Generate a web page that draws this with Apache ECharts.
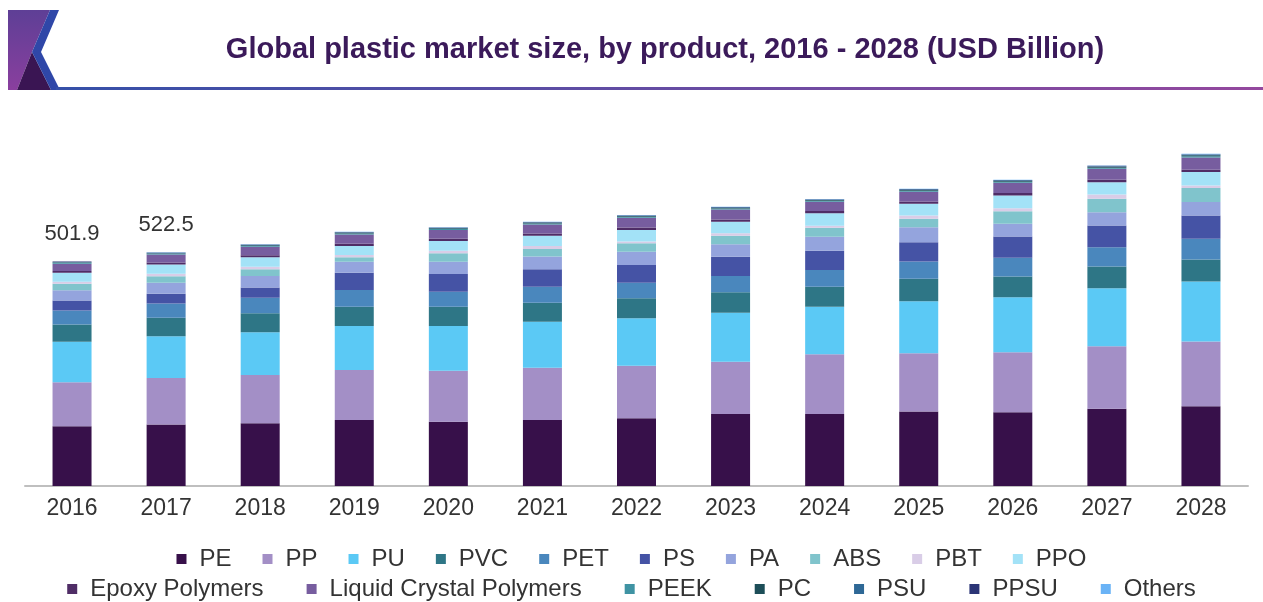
<!DOCTYPE html>
<html>
<head>
<meta charset="utf-8">
<script src="https://cdn.jsdelivr.net/npm/echarts@6/dist/echarts.min.js"></script>
<style>
html,body{margin:0;padding:0;background:#fff;}
#chart{width:1263px;height:602px;}
</style>
</head>
<body>
<div id="chart"></div>
<script>
const years = ['2016','2017','2018','2019','2020','2021','2022','2023','2024','2025','2026','2027','2028'];
const totalLabels = ['501.9','522.5','','','','','','','','','','',''];

const PE    = [133.5,137.2,140.1,147.5,143.7,147.5,151.3,160.9,160.9,166.5,164.9,172.5,178.4];
const PP    = [98.3,104.4,108.0,111.8,114.0,116.9,117.6,116.9,133.4,130.3,134.1,139.9,144.6];
const PU    = [90.3,93.0,95.4,98.3,99.9,102.8,105.9,109.5,106.4,116.2,122.9,129.6,134.1];
const PVC   = [38.7,41.1,42.5,43.1,43.1,42.5,44.7,45.6,44.7,50.1,46.3,48.5,49.2];
const PET   = [31.3,32.0,34.9,37.3,33.5,35.8,34.9,36.4,37.3,38.7,41.8,43.1,46.3];
const PS    = [22.4,21.7,22.4,38.7,39.6,38.9,39.6,43.1,43.1,43.1,47.6,48.5,52.1];
const PA    = [23.0,24.6,26.1,24.6,27.5,28.2,29.7,27.7,31.3,33.5,28.4,29.7,29.7];
const ABS   = [14.3,14.8,15.0,9.8,18.8,17.2,18.8,19.2,20.1,18.8,28.2,29.9,31.3];
const PBT   = [4.5,5.4,5.8,5.1,5.8,6.5,3.6,5.4,4.5,7.4,6.7,9.6,6.0];
const PPO   = [20.1,20.8,21.0,20.1,21.7,23.0,26.1,25.9,27.7,26.1,28.4,27.5,29.7];
const EPOXY = [4.0,4.3,4.5,5.0,4.8,4.9,5.2,5.2,5.0,5.2,5.5,5.8,5.4];
const LCP   = [16.5,17.8,18.8,20.8,19.9,20.3,21.8,21.8,20.8,21.8,22.8,24.2,27.5];
const PEEK  = [1.8,1.9,2.0,2.2,2.1,2.2,2.3,2.3,2.2,2.3,2.4,2.6,2.8];
const PC    = [1.2,1.3,1.4,1.5,1.5,1.5,1.6,1.6,1.5,1.6,1.7,1.8,2.0];
const PSU   = [0.9,1.0,1.1,1.2,1.1,1.2,1.3,1.3,1.2,1.3,1.4,1.5,1.6];
const PPSU  = [0.6,0.7,0.7,0.7,0.6,0.6,0.7,0.7,0.7,0.7,0.7,0.8,0.9];
const OTHERS= [0.5,0.5,0.5,0.6,0.6,0.6,0.6,0.6,0.6,0.6,0.6,0.6,0.9];

const seriesNames = ['PE','PP','PU','PVC','PET','PS','PA','ABS','PBT','PPO','Epoxy Polymers','Liquid Crystal Polymers','PEEK','PC','PSU','PPSU','Others'];
const seriesData  = [PE,PP,PU,PVC,PET,PS,PA,ABS,PBT,PPO,EPOXY,LCP,PEEK,PC,PSU,PPSU,OTHERS];
const colors = ['#37104a','#a38fc6','#5bc9f5','#2e7686','#4a87bd','#4553a5','#94a4dd','#80c4cc','#d9cde7','#a3e2f7','#4f2d66','#775d9f','#3f93a3','#1d4e58','#2e6896','#2b3576','#6ab3f6'];

const FONT = 'Liberation Sans, Arial, sans-serif';

const series = seriesNames.map((n,i)=>{
  const s = {
    name: n, type: 'bar', stack: 'total', barWidth: 39,
    data: seriesData[i], itemStyle: {color: colors[i]}
  };
  if (i === seriesNames.length-1) {
    s.label = {
      show: true, position: 'top', distance: 16,
      fontFamily: FONT, fontSize: 22, color: '#333',
      formatter: p => totalLabels[p.dataIndex]
    };
  }
  return s;
});

const legendText = {fontFamily: FONT, fontSize: 24, color: '#333', padding: [0,0,0,8]};

const chart = echarts.init(document.getElementById('chart'), null, {renderer:'canvas'});
chart.setOption({
  animation: false,
  backgroundColor: '#fff',
  color: colors,
  textStyle: {fontFamily: FONT},
  title: {
    text: 'Global plastic market size, by product, 2016 - 2028 (USD Billion)',
    left: 660, top: 30, textAlign: 'center',
    textStyle: {fontFamily: FONT, fontSize: 29, fontWeight: 'bold', color: '#3b1a5a'}
  },
  legend: [
    {
      data: seriesNames.slice(0,10), top: 542, left: 'center',
      itemWidth: 10, itemHeight: 10, itemGap: 31, icon: 'rect',
      textStyle: legendText
    },
    {
      data: seriesNames.slice(10), top: 572, left: 'center',
      itemWidth: 10, itemHeight: 10, itemGap: 43, icon: 'rect',
      textStyle: legendText
    }
  ],
  grid: {left: 25, right: 15, top: 128, bottom: 116, containLabel: false},
  xAxis: {
    type: 'category', data: years,
    axisLine: {lineStyle: {color: '#bfbfbf', width: 2}},
    axisTick: {show: false},
    axisLabel: {fontFamily: FONT, fontSize: 23, color: '#333', margin: 11}
  },
  yAxis: {
    type: 'value', min: 0, max: 800,
    show: false, splitLine: {show: false}
  },
  series: series,
  graphic: [
    {type:'polygon', shape:{points:[[8,10],[50,10],[32,52],[17,90],[8,90]]},
     style:{fill:new echarts.graphic.LinearGradient(0,0,0,1,[{offset:0,color:'#5e3f96'},{offset:1,color:'#8a3f9e'}])}},
    {type:'polygon', shape:{points:[[17,90],[32,52],[51,90]]}, style:{fill:'#3a1553'}},
    {type:'polygon', shape:{points:[[50,10],[59,10],[41,52],[60,90],[51,90],[32,52]]}, style:{fill:'#2f47a8'}},
    {type:'rect', shape:{x:56, y:87, width:1207, height:3},
     style:{fill:new echarts.graphic.LinearGradient(0,0,1,0,[{offset:0,color:'#3550a8'},{offset:1,color:'#94489e'}])}}
  ]
});
</script>
</body>
</html>
